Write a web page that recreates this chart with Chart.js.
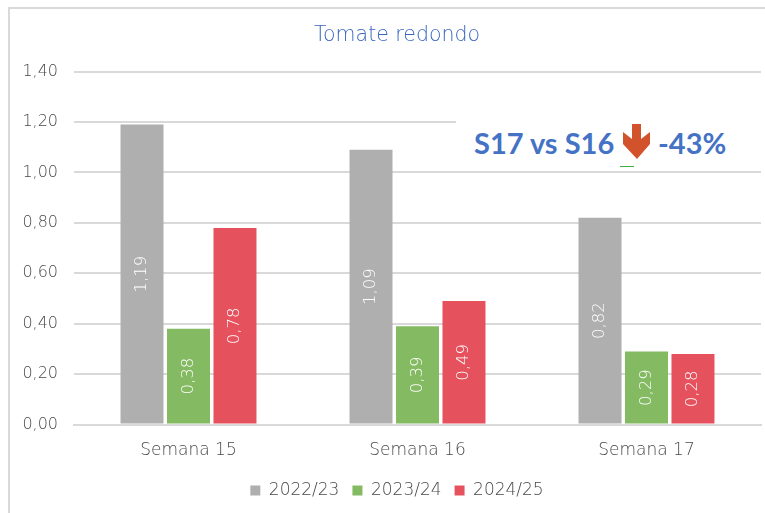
<!DOCTYPE html>
<html lang="es">
<head>
<meta charset="utf-8">
<title>Tomate redondo</title>
<script src="https://cdn.jsdelivr.net/npm/chart.js@4"></script>
<style>
  html, body { margin: 0; padding: 0; background: #fff; overflow: hidden; }
  body { width: 765px; height: 513px; position: relative; }
  #frame { position: absolute; left: 8px; top: 7px; width: 772px; height: 530px; border: 2px solid #d9d9d9; box-sizing: border-box; }
  #chart { position: absolute; left: 0; top: 0; }
  #note { position: absolute; left: 456px; top: 116px; width: 309px; height: 50px; background: #fff; }
  #note span { position: absolute; top: 9px; font: 700 29px Lato, sans-serif; color: #4472c4; white-space: nowrap; line-height: 36px; }
  #arrow { position: absolute; left: 167px; top: 8px; }
  #tick { position: absolute; left: 620px; top: 166px; width: 14px; height: 1px; background: #3cb043; }
</style>
</head>
<body>
<div id="frame"></div>
<canvas id="chart" width="780" height="537"></canvas>
<div id="note">
  <span style="left:18px">S17 vs S16</span>
  <svg id="arrow" width="28" height="36" viewBox="0 0 28 36">
    <path d="M9 0H18V15L27 8V20L14 35L0 20V8L9 15Z" fill="#d2522b"/>
  </svg>
  <span style="left:202px">-43%</span>
</div>
<div id="tick"></div>
<script>
const CATEGORIES = ['Semana 15', 'Semana 16', 'Semana 17'];
const S_2022 = [1.19, 1.09, 0.82];
const S_2023 = [0.38, 0.39, 0.29];
const S_2024 = [0.78, 0.49, 0.28];

const FONT = '"DejaVu Sans", sans-serif';
const TEXT_COLOR = '#484848';

// value labels turned 90 degrees, in the middle of each bar
const barLabels = {
  id: 'barLabels',
  afterLayout(chart) {
    // the left padding only centres title and legend, keep y labels from clipping
    chart.scales.y.left = 0;
  },
  afterDatasetsDraw(chart) {
    const ctx = chart.ctx;
    chart.data.datasets.forEach((ds, i) => {
      chart.getDatasetMeta(i).data.forEach((bar, j) => {
        ctx.save();
        ctx.translate(bar.x, (bar.y + bar.base) / 2);
        ctx.rotate(-Math.PI / 2);
        ctx.fillStyle = '#fff';
        ctx.font = '200 16.5px ' + FONT;
        ctx.textAlign = 'center';
        ctx.textBaseline = 'middle';
        ctx.fillText(ds.data[j].toFixed(2).replace('.', ','), 0, 0);
        ctx.restore();
      });
    });
  }
};

new Chart(document.getElementById('chart'), {
  type: 'bar',
  plugins: [barLabels],
  data: {
    labels: CATEGORIES,
    datasets: [
      { label: '2022/23', data: S_2022, backgroundColor: '#afafaf' },
      { label: '2023/24', data: S_2023, backgroundColor: '#84ba62' },
      { label: '2024/25', data: S_2024, backgroundColor: '#e5525e' }
    ]
  },
  options: {
    responsive: false,
    animation: false,
    categoryPercentage: 0.609,
    barPercentage: 0.925,
    layout: { padding: { left: 33, right: 19, top: 0, bottom: 28 } },
    plugins: {
      title: {
        display: true,
        text: 'Tomate redondo',
        color: '#3a66bd',
        font: { family: FONT, size: 20.5, weight: 200 },
        padding: { top: 23, bottom: 24 }
      },
      legend: {
        position: 'bottom',
        labels: { boxWidth: 10, boxHeight: 10, color: TEXT_COLOR, font: { family: FONT, size: 17, weight: 200 }, padding: 13 }
      },
      tooltip: { enabled: false }
    },
    scales: {
      x: {
        grid: { display: false },
        border: { color: '#d9d9d9', width: 2 },
        ticks: { color: TEXT_COLOR, font: { family: FONT, size: 17, weight: 200 }, padding: 8 }
      },
      y: {
        min: 0,
        max: 1.4,
        afterFit(scale) { scale.width = 41; },
        grid: { color: '#d9d9d9', lineWidth: 2, drawTicks: false },
        border: { display: false },
        ticks: {
          stepSize: 0.2,
          padding: 16,
          color: TEXT_COLOR,
          font: { family: FONT, size: 16, weight: 200 },
          callback: v => v.toFixed(2).replace('.', ',')
        }
      }
    }
  }
});
</script>
</body>
</html>
